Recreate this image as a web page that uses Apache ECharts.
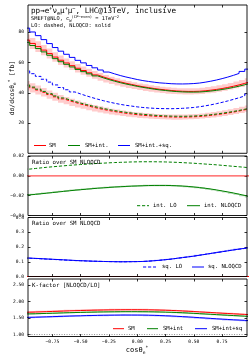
<!DOCTYPE html>
<html><head><meta charset="utf-8">
<script src="https://cdn.jsdelivr.net/npm/echarts@6/dist/echarts.min.js"></script>
<style>html,body{margin:0;padding:0;background:#fff}#c{width:252px;height:359px}</style>
</head><body><div id="c"></div>
<script>
// ---- data (bin edges in cos theta_e*, 0.05 wide) ----
const binEdges = [-1.00,-0.95,-0.90,-0.85,-0.80,-0.75,-0.70,-0.65,-0.60,-0.55,-0.50,-0.45,-0.40,-0.35,-0.30,-0.25,-0.20,-0.15,-0.10,-0.05,
  0.00,0.05,0.10,0.15,0.20,0.25,0.30,0.35,0.40,0.45,0.50,0.55,0.60,0.65,0.70,0.75,0.80,0.85,0.90,0.95,1.00];
// SM NLOQCD differential cross section [fb]
const smNLO = [74.8,72.6,70.5,68.2,65.9,63.6,61.5,59.7,57.9,56.2,54.7,53.2,51.8,50.5,49.3,48.2,47.2,46.3,45.5,44.7,
  44.0,43.4,42.8,42.3,41.9,41.5,41.2,41.0,40.9,40.9,41.0,41.3,41.7,42.2,42.8,43.5,44.3,45.2,46.2,47.3];
// K-factor SM (NLOQCD/LO)
const kSM = [1.675,1.680,1.686,1.692,1.698,1.704,1.710,1.716,1.721,1.726,1.731,1.735,1.739,1.742,1.745,1.747,1.749,1.750,1.750,1.750,
  1.749,1.747,1.744,1.740,1.735,1.729,1.722,1.714,1.705,1.695,1.685,1.675,1.665,1.655,1.645,1.636,1.627,1.618,1.609,1.600];
// interference / SM NLOQCD
const intLO = [0.0068,0.0074,0.0080,0.0086,0.0091,0.0096,0.0101,0.0106,0.0110,0.0114,0.0118,0.0122,0.0125,0.0128,0.0131,0.0134,0.0136,0.0138,0.0140,0.0141,
  0.0142,0.0142,0.0142,0.0141,0.0140,0.0138,0.0136,0.0133,0.0130,0.0127,0.0123,0.0119,0.0115,0.0111,0.0106,0.0101,0.0096,0.0091,0.0086,0.0081];
const intNLO = [-0.0192,-0.0187,-0.0181,-0.0175,-0.0169,-0.0163,-0.0157,-0.0151,-0.0145,-0.0140,-0.0135,-0.0130,-0.0125,-0.0121,-0.0117,-0.0113,-0.0110,-0.0107,-0.0104,-0.0102,
  -0.0100,-0.0098,-0.0097,-0.0097,-0.0097,-0.0098,-0.0100,-0.0103,-0.0107,-0.0112,-0.0118,-0.0125,-0.0133,-0.0142,-0.0152,-0.0162,-0.0173,-0.0185,-0.0198,-0.0212];
// squared / SM NLOQCD
const sqLO = [0.124,0.122,0.120,0.118,0.116,0.114,0.112,0.110,0.108,0.107,0.105,0.104,0.103,0.102,0.101,0.1005,0.100,0.100,0.1005,0.101,
  0.102,0.104,0.107,0.110,0.114,0.118,0.123,0.128,0.133,0.138,0.144,0.150,0.156,0.162,0.168,0.174,0.180,0.185,0.190,0.196];
const sqNLO = [0.125,0.123,0.121,0.119,0.117,0.115,0.113,0.111,0.109,0.107,0.106,0.104,0.103,0.102,0.101,0.1005,0.100,0.100,0.1005,0.101,
  0.102,0.104,0.107,0.110,0.114,0.118,0.123,0.128,0.133,0.138,0.144,0.150,0.156,0.162,0.168,0.174,0.180,0.186,0.191,0.197];
const uncNLO = 0.05, uncLO = 0.07;   // relative scale uncertainty bands
const xTicks = [-0.75,-0.5,-0.25,0,0.25,0.5,0.75];
const yTicks = [[20,40,60,80],[-0.04,-0.02,0,0.02],[0,0.1,0.2,0.3,0.4],[1,1.5,2,2.5]];

// ---- derived ----
const N = smNLO.length;
const smLO = smNLO.map((v,i)=>v/kSM[i]);
const smIntNLO = smNLO.map((v,i)=>v*(1+intNLO[i]));
const smIntLO = smLO.map((v,i)=>v+intLO[i]*smNLO[i]);
const fullNLO = smNLO.map((v,i)=>v*(1+intNLO[i]+sqNLO[i]));
const fullLO = smIntLO.map((v,i)=>v+sqLO[i]*smNLO[i]);
const kInt = smIntNLO.map((v,i)=>v/smIntLO[i]);
const kFull = fullNLO.map((v,i)=>v/fullLO[i]);

function stepPts(vals){ const p = vals.map((v,i)=>[binEdges[i], v]); p.push([binEdges[N], vals[N-1]]); return p; }
const zeros = new Array(N).fill(0), ones = new Array(N).fill(1);

const RED='#ff0000', GREEN='#008000', BLUE='#0000ff';
const FONT='DejaVu Sans Mono';
const grids = [
  {left:28, width:219, top:5, height:148.3},
  {left:28, width:219, top:156, height:59.5},
  {left:28, width:219, top:217.5, height:59},
  {left:28, width:219, top:279, height:57.5}
];
const yR = [[0,98],[-0.04,0.02],[0,0.4],[0.94,2.68]];
const fmt = [v=>String(v), v=>(v<0?'\u2212':'')+Math.abs(v).toFixed(2), v=>v.toFixed(1), v=>v.toFixed(2)];
const tick = {inside:true, length:2.5, lineStyle:{color:'#000',width:0.8}};

const xAxis=[], yAxis=[];
for(let g=0; g<4; g++){
  xAxis.push({type:'value', gridIndex:g, min:-0.965, max:0.97, position:'bottom',
    axisLine:{show:false, onZero:false}, splitLine:{show:false},
    axisTick:Object.assign({customValues:xTicks}, tick),
    axisLabel:{show:g===3, customValues:xTicks, fontFamily:FONT, fontSize:4.6, color:'#000', margin:3,
      formatter:v=>(v<0?'\u2212':'')+Math.abs(v).toFixed(2)}});
  yAxis.push({type:'value', gridIndex:g, min:yR[g][0], max:yR[g][1], position:'left',
    axisLine:{show:false, onZero:false}, splitLine:{show:false},
    axisTick:Object.assign({customValues:yTicks[g]}, tick),
    axisLabel:{customValues:yTicks[g], fontFamily:FONT, fontSize:4.6, color:'#000', margin:4, formatter:fmt[g]}});
}
for(let g=0; g<4; g++){
  xAxis.push({type:'value', gridIndex:g, min:-0.965, max:0.97, position:'top',
    axisLine:{show:false, onZero:false}, splitLine:{show:false}, axisLabel:{show:false},
    axisTick:Object.assign({customValues:xTicks}, tick)});
  yAxis.push({type:'value', gridIndex:g, min:yR[g][0], max:yR[g][1], position:'right',
    axisLine:{show:false, onZero:false}, splitLine:{show:false}, axisLabel:{show:false},
    axisTick:Object.assign({customValues:yTicks[g]}, tick)});
}

const series=[];
function line(g, vals, color, dashed, width, z){
  series.push({type:'line', xAxisIndex:g, yAxisIndex:g, data:stepPts(vals), step:'end', symbol:'none',
    silent:true, animation:false, z:z||3,
    lineStyle:{color:color, width:width||1, type:dashed?[3.2,1.8]:'solid'}});
}
function band(g, lo, hi, color){
  series.push({type:'custom', xAxisIndex:g, yAxisIndex:g, data:[[binEdges[0], lo[0]]], silent:true, animation:false, clip:true, z:1,
    renderItem:function(params, api){
      const pts=[];
      for(let i=0;i<N;i++){ pts.push(api.coord([binEdges[i], hi[i]])); pts.push(api.coord([binEdges[i+1], hi[i]])); }
      for(let i=N-1;i>=0;i--){ pts.push(api.coord([binEdges[i+1], lo[i]])); pts.push(api.coord([binEdges[i], lo[i]])); }
      return {type:'polygon', shape:{points:pts}, style:{fill:color, stroke:null}};
    }});
}
// panel 1
band(0, smNLO.map(v=>v*(1-uncNLO)), smNLO.map(v=>v*(1+uncNLO)), 'rgba(255,0,0,0.2)');
band(0, smLO.map(v=>v*(1-uncLO)), smLO.map(v=>v*(1+uncLO)), 'rgba(255,0,0,0.2)');
line(0, smLO, RED, true); line(0, smIntLO, GREEN, true); line(0, fullLO, BLUE, true);
line(0, smNLO, RED, false); line(0, smIntNLO, GREEN, false); line(0, fullNLO, BLUE, false);
// panel 2
band(1, intNLO.map(v=>v-0.0007), intNLO.map(v=>v+0.0007), 'rgba(0,128,0,0.3)');
line(1, zeros, '#ff5050', false, 1.4);
line(1, intLO, GREEN, true); line(1, intNLO, GREEN, false);
// panel 3
band(2, sqNLO.map(v=>v-0.003), sqNLO.map(v=>v+0.003), 'rgba(0,0,255,0.25)');
line(2, zeros, RED, false, 1.2);
line(2, sqLO, BLUE, true); line(2, sqNLO, BLUE, false);
// panel 4
band(3, kSM.map(v=>v-0.02), kSM.map(v=>v+0.03), 'rgba(255,0,0,0.25)');
band(3, kInt.map(v=>v-0.02), kInt.map(v=>v+0.02), 'rgba(0,128,0,0.25)');
band(3, kFull.map(v=>v-0.03), kFull.map(v=>v+0.02), 'rgba(0,0,255,0.25)');
series.push({type:'line', xAxisIndex:3, yAxisIndex:3, data:stepPts(ones), symbol:'none', silent:true, animation:false,
  lineStyle:{color:'#777', width:0.8, type:[1,1.5]}, z:2});
line(3, kSM, RED, false); line(3, kInt, GREEN, false); line(3, kFull, BLUE, false);

// ---- graphics: frames, texts, legends ----
const gr=[];
grids.forEach(g=>gr.push({type:'rect', shape:{x:g.left, y:g.top, width:g.width, height:g.height},
  style:{fill:'none', stroke:'#000', lineWidth:0.9}, z:100, silent:true}));
function txt(x,y,s,size,extra){ gr.push(Object.assign({type:'text', x:x, y:y, silent:true, z:101,
  style:{text:s, fontFamily:FONT, fontSize:size, fill:'#000', verticalAlign:'middle', align:'left'}}, extra||{})); }
function seg(x1,x2,y,color,dashed){ gr.push({type:'line', shape:{x1:x1,y1:y,x2:x2,y2:y}, silent:true, z:101,
  style:{stroke:color, lineWidth:1, lineDash:dashed?[3.2,1.8]:null}}); }
gr.push({type:'text', x:31, y:10.7, silent:true, z:101, style:{
  text:'{n|pp\u2192e}{sp|+}{n|\u03BD}{sb|e}{n|\u03BC}{sp|+}{n|\u03BC}{sp|\u2212}{n|, LHC@13TeV, inclusive}', fill:'#000', verticalAlign:'middle',
  rich:{n:{fontFamily:FONT, fontSize:7.6, lineHeight:10, verticalAlign:'middle'},
        sb:{fontFamily:FONT, fontSize:5.2, lineHeight:10, verticalAlign:'bottom'},
        sp:{fontFamily:FONT, fontSize:5.2, lineHeight:10, verticalAlign:'top'}}}});
gr.push({type:'text', x:31, y:18.6, silent:true, z:101, style:{
  text:'{n|SMEFT@NLO, c}{sb|W}{sp|(CP\u2212even)}{n| = 1TeV}{sp|\u22122}', fill:'#000', verticalAlign:'middle',
  rich:{n:{fontFamily:FONT, fontSize:5.3, lineHeight:8, verticalAlign:'middle'},
        sb:{fontFamily:FONT, fontSize:3.8, lineHeight:8, verticalAlign:'bottom'},
        sp:{fontFamily:FONT, fontSize:3.8, lineHeight:8, verticalAlign:'top'}}}});
txt(31,25.7,'LO: dashed, NLOQCD: solid',5.3);
txt(32,163,'Ratio over SM NLOQCD',5.7);
txt(32,224,'Ratio over SM NLOQCD',5.7);
txt(32,285.7,'K-factor [NLOQCD/LO]',5.7);
// legends
seg(34,46,145.5,RED); txt(49,145.5,'SM',5.6);
seg(68,80,145.5,GREEN); txt(85,145.5,'SM+int.',5.6);
seg(118,130,145.5,BLUE); txt(135,145.5,'SM+int.+sq.',5.6);
seg(137,149,205.7,GREEN,true); txt(153,205.7,'int. LO',5.6);
seg(187,200,205.7,GREEN); txt(204,205.7,'int. NLOQCD',5.6);
seg(143,156,267,BLUE,true); txt(162,267,'sq. LO',5.6);
seg(192,204,267,BLUE); txt(208,267,'sq. NLOQCD',5.6);
seg(113,124,328.7,RED); txt(128,328.7,'SM',5.6);
seg(147,158,328.7,GREEN); txt(163,328.7,'SM+int',5.6);
seg(195,207,328.7,BLUE); txt(212,328.7,'SM+int+sq',5.6);
// axis titles
gr.push({type:'text', x:12, y:88, rotation:Math.PI/2, silent:true, z:101, style:{
  text:'{n|d\u03C3/dcos\u03B8}{sb|e}{sp|*}{n| [fb]}', align:'center', verticalAlign:'middle',
  rich:{n:{fontFamily:FONT, fontSize:6.3, lineHeight:9, verticalAlign:'middle'},
        sb:{fontFamily:FONT, fontSize:4.3, lineHeight:9, verticalAlign:'bottom'},
        sp:{fontFamily:FONT, fontSize:4.3, lineHeight:9, verticalAlign:'top'}}}});
gr.push({type:'text', x:137, y:350, silent:true, z:101, style:{
  text:'{n|cos\u03B8}{sb|e}{sp|*}', align:'center', verticalAlign:'middle',
  rich:{n:{fontFamily:FONT, fontSize:7, lineHeight:10, verticalAlign:'middle'},
        sb:{fontFamily:FONT, fontSize:4.6, lineHeight:10, verticalAlign:'bottom'},
        sp:{fontFamily:FONT, fontSize:4.6, lineHeight:10, verticalAlign:'top'}}}});

const chart = echarts.init(document.getElementById('c'), null, {renderer:'canvas'});
chart.setOption({animation:false, backgroundColor:'#fff', grid:grids, xAxis:xAxis, yAxis:yAxis, series:series, graphic:gr});
</script></body></html>
